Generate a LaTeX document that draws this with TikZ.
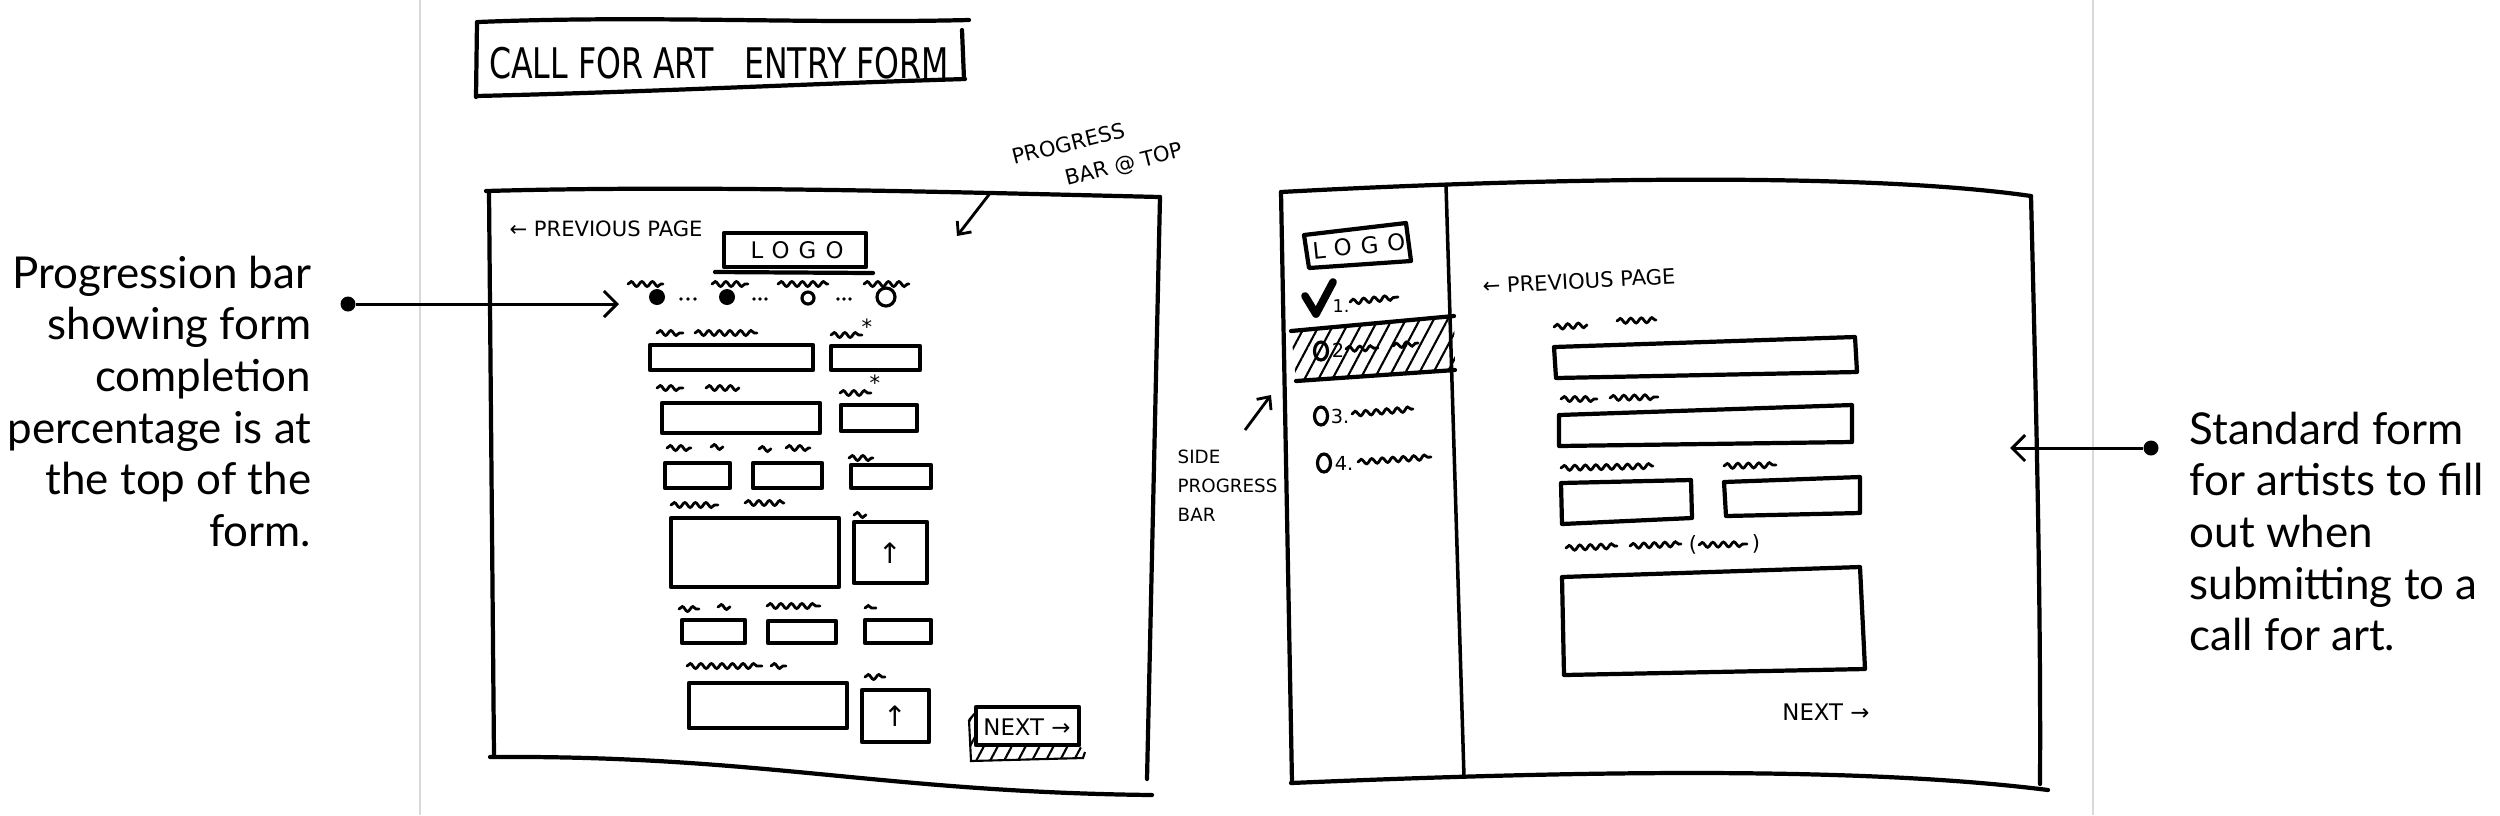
\documentclass[tikz,border=0pt]{standalone}
\usepackage{fontspec}
\setmainfont{Lato}
\newfontfamily\hand{DejaVu Sans}
\newfontfamily\handtitle[FakeStretch=0.75]{DejaVu Sans}
\newfontfamily\handlogo[LetterSpace=40]{DejaVu Sans}
\usetikzlibrary{arrows.meta, decorations.pathmorphing, patterns.meta}

\begin{document}
\begin{tikzpicture}[
x=0.1mm, y=-0.1mm,
sketch/.style={line width=1.2pt, line cap=round, line join=round},
squig/.style={line width=0.8pt, line cap=round, decorate, decoration={snake, amplitude=0.7pt, segment length=3pt}},
scrawl/.style={font=\hand\fontsize{6}{7.5}\selectfont, inner sep=0},
note/.style={font=\fontsize{12.5}{14.7}\selectfont, inner sep=0},
pin/.style={circle, fill=black, minimum size=1.5mm, inner sep=0},
callout/.style={line width=0.85pt, -{Straight Barb[length=1.3mm, width=2.6mm]}},
pointer/.style={line width=0.8pt, -{Straight Barb[length=1mm, width=1.8mm]}},
hatch/.style={pattern={Lines[angle=62, distance=3.5pt, line width=0.6pt]}}
]
\useasboundingbox (0,0) rectangle (2500,815);
\draw[gray!30, line width=0.3pt] (420,0) -- (420,815);
\draw[gray!30, line width=0.3pt] (2093,0) -- (2093,815);

\draw[sketch] (478,22) .. controls (650,15) and (800,24) .. (969,20);
\draw[sketch] (477,22) -- (476,97);
\draw[sketch] (476,96) .. controls (650,92) and (800,84) .. (965,79);
\draw[sketch] (962,30) -- (964,79);
\node[font=\handtitle\fontsize{12}{14}\selectfont, inner sep=0] (title) at (719,63) {CALL FOR ART\ \ \ ENTRY FORM};

\draw[sketch] (486,191) .. controls (700,185) and (950,192) .. (1160,197);
\draw[sketch] (489,192) -- (494,756);
\draw[sketch] (490,757) .. controls (760,755) and (880,792) .. (1152,795);
\draw[sketch] (1160,197) -- (1147,779);

\node[scrawl, font=\hand\fontsize{6}{9.5}\selectfont, rotate=14, align=left] (ptop) at (1098,155) {PROGRESS\\\hspace*{2.2em}BAR @ TOP};
\coordinate (ptoptail) at (991,192);
\coordinate (ptophit) at (957,236);
\draw[pointer] (ptoptail) -- (ptophit);

\node[scrawl] (lprev) at (606,229) {← PREVIOUS PAGE};
\draw[sketch] (724,233) rectangle (866,267);
\draw[sketch] (715,272) -- (873,273);
\node[font=\handlogo\fontsize{6.5}{8}\selectfont, inner sep=0] (llogo) at (797,250) {LOGO};

\foreach \a/\b in {628/663, 712/748, 778/828, 864/909}
  \draw[squig] (\a,284) -- (\b,284);
\fill (657,297) circle (0.8mm);
\fill (727,297) circle (0.8mm);
\draw[line width=0.9pt] (808,298) circle (0.6mm);
\draw[line width=0.9pt] (886,297) circle (0.9mm);
\foreach \x in {681,688,695,754,760,766,838,844,850}
  \fill (\x,299) circle (0.18mm);

\foreach \a/\b/\c/\d in {650/345/813/370, 831/346/920/370, 662/403/820/433, 841/405/917/431,
    665/463/730/488, 753/463/822/488, 851/465/931/488, 671/518/839/587, 854/522/927/583,
    682/620/745/643, 768/621/836/643, 865/620/931/643, 689/683/847/728, 862/690/929/742}
  \draw[sketch] (\a,\b) rectangle (\c,\d);
\foreach \a/\b/\y in {657/683/333, 695/757/333, 831/862/335, 657/683/388, 706/739/388, 840/871/393,
    667/691/448, 711/723/447, 759/771/449, 786/810/448, 849/873/458, 671/718/505, 745/784/503,
    854/866/515, 679/699/609, 718/730/607, 767/820/606, 865/876/608, 687/762/666, 771/786/666, 865/885/677}
  \draw[squig] (\a,\y) -- (\b,\y);
\node[scrawl] (star1) at (867,327) {*};
\node[scrawl] (star2) at (875,383) {*};
\node[scrawl, font=\hand\fontsize{8}{9}\selectfont] (up1) at (890,553) {↑};
\node[scrawl, font=\hand\fontsize{8}{9}\selectfont] (up2) at (895,716) {↑};

\fill[hatch] (969,720) -- (976,712) -- (976,745) -- (1079,745) -- (1085,752) -- (1083,758) -- (971,761) -- cycle;
\draw[line width=0.6pt] (969,720) -- (976,712) (969,720) -- (971,761) -- (1083,758) -- (1085,752);
\draw[sketch] (976,707) rectangle (1079,745);
\node[scrawl, font=\hand\fontsize{6.5}{8}\selectfont] (lnext) at (1027,727) {NEXT →};

\draw[sketch] (1281,192) .. controls (1500,180) and (1850,170) .. (2031,196);
\draw[sketch] (1281,192) -- (1292,783);
\draw[sketch] (1291,783) .. controls (1550,772) and (1850,765) .. (2048,790);
\draw[sketch] (2031,196) .. controls (2036,400) and (2041,600) .. (2040,784);
\draw[line width=1pt] (1446,185) -- (1464,777);

\draw[sketch] (1304,235) -- (1406,223) -- (1411,261) -- (1309,268) -- cycle;
\node[font=\handlogo\fontsize{6.5}{8}\selectfont, inner sep=0, rotate=6] (rlogo) at (1359,246) {LOGO};
\draw[line width=2.2pt, line join=round, line cap=round] (1305,296) -- (1316,314) -- (1333,282);
\node[scrawl, font=\hand\fontsize{5}{6}\selectfont] (n1) at (1341,306) {1.};

\fill[hatch] (1291,331) -- (1454,316) -- (1455,370) -- (1296,381) -- cycle;
\draw[sketch] (1291,331) -- (1454,316);
\draw[sketch] (1296,381) -- (1455,370);
\draw[line width=0.9pt] (1321,351) ellipse (0.65mm and 0.9mm);
\draw[line width=0.9pt] (1321,416) ellipse (0.65mm and 0.9mm);
\draw[line width=0.9pt] (1324,463) ellipse (0.65mm and 0.9mm);
\node[scrawl, font=\hand\fontsize{5.5}{6}\selectfont] (n2) at (1338,350) {2};
\node[scrawl, font=\hand\fontsize{5.5}{6}\selectfont] (n3) at (1340,416) {3.};
\node[scrawl, font=\hand\fontsize{5.5}{6}\selectfont] (n4) at (1344,463) {4.};
\foreach \a/\b/\y/\z in {1350/1398/302/297, 1346/1378/349/348, 1393/1418/346/343, 1352/1413/414/409, 1358/1431/462/457}
  \draw[squig] (\a,\y) -- (\b,\z);

\node[scrawl, font=\hand\fontsize{5.2}{8.2}\selectfont, align=left, anchor=west] (side) at (1177,486) {SIDE\\PROGRESS\\BAR};
\coordinate (sidetail) at (1245,430);
\coordinate (sidehit) at (1271,395);
\draw[pointer] (sidetail) -- (sidehit);

\node[scrawl, rotate=3] (rprev) at (1579,281) {← PREVIOUS PAGE};
\foreach \a/\b/\y/\z in {1554/1587/327/325, 1617/1656/321/320, 1561/1597/399/399, 1610/1658/398/397,
    1561/1653/468/466, 1724/1776/466/465, 1566/1617/548/546, 1630/1681/546/544, 1699/1747/545/544}
  \draw[squig] (\a,\y) -- (\b,\z);
\node[scrawl] (lpar) at (1693,545) {(};
\node[scrawl] (rpar) at (1756,544) {)};
\draw[sketch] (1554,347) -- (1855,337) -- (1857,372) -- (1556,378) -- cycle;
\draw[sketch] (1559,415) -- (1852,405) -- (1852,442) -- (1559,446) -- cycle;
\draw[sketch] (1561,483) -- (1691,480) -- (1692,518) -- (1562,524) -- cycle;
\draw[sketch] (1724,482) -- (1860,477) -- (1860,513) -- (1726,516) -- cycle;
\draw[sketch] (1562,577) -- (1860,567) -- (1865,669) -- (1564,675) -- cycle;
\node[scrawl, font=\hand\fontsize{6.5}{8}\selectfont] (rnext) at (1826,712) {NEXT →};

\node[note, anchor=north east, align=right] (ltext) at (312,255) {Progression bar\\showing form\\completion\\percentage is at\\the top of the\\form.};
\node[pin] (lpin) at (348,304) {};
\coordinate (lhit) at (619,304);
\draw[callout] (lpin) -- (lhit);

\node[note, anchor=north west, align=left] (rtext) at (2189,411) {Standard form\\for artists to fill\\out when\\submitting to a\\call for art.};
\node[pin] (rpin) at (2151,448) {};
\coordinate (rhit) at (2010,448);
\draw[callout] (rpin) -- (rhit);
\end{tikzpicture}
\end{document}
